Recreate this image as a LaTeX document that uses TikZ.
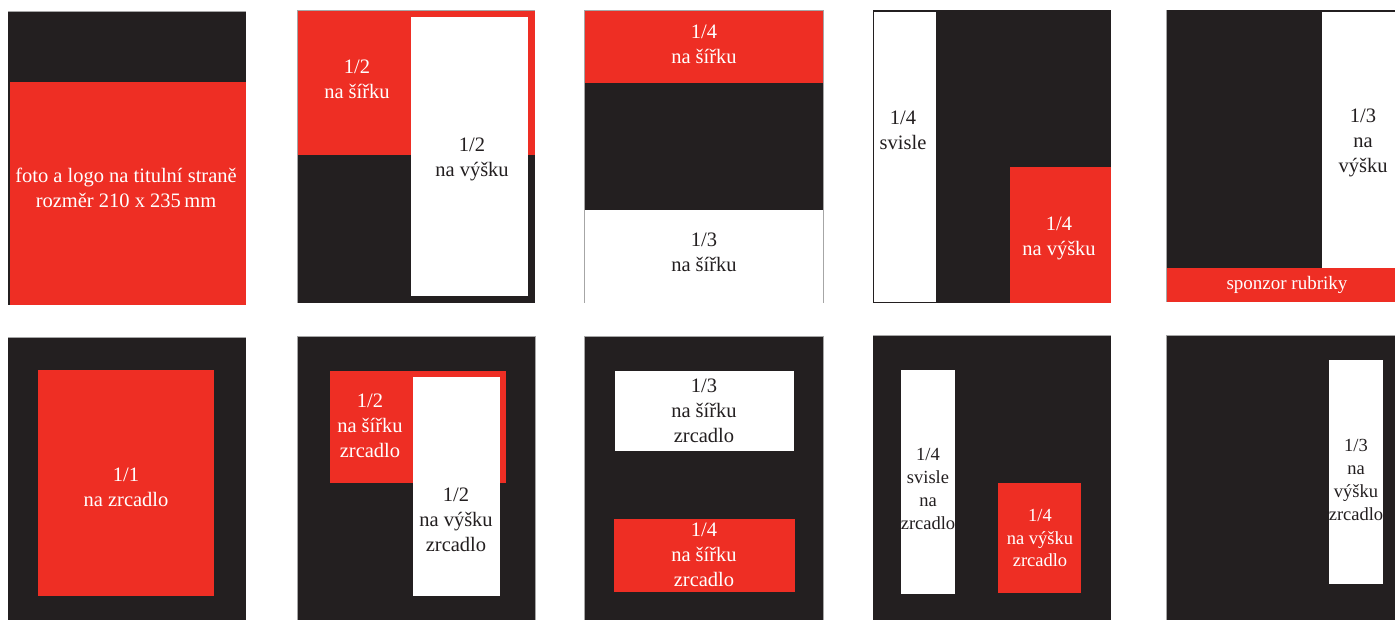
\documentclass[tikz,border=0pt]{standalone}
\usepackage{fontspec}
\setmainfont{Liberation Serif}
\definecolor{pred}{HTML}{EE2E24}
\definecolor{pdark}{HTML}{231F20}
\tikzset{
  darkbox/.style={fill=pdark},
  redbox/.style={fill=pred},
  whitebox/.style={fill=white},
  edge/.style={draw=gray!70,line width=0.7pt},
  lblw/.style={text=white,align=center,inner sep=0pt,font=\fontsize{20.5}{25}\selectfont},
  lbld/.style={text=pdark,align=center,inner sep=0pt,font=\fontsize{20.5}{25}\selectfont},
  slblw/.style={text=white,align=center,inner sep=0pt,font=\fontsize{18.5}{22.5}\selectfont},
  slbld/.style={text=pdark,align=center,inner sep=0pt,font=\fontsize{18.5}{23}\selectfont},
}
\begin{document}
\begin{tikzpicture}[x=1pt,y=-1pt]
\useasboundingbox[fill=white] (0,0) rectangle (1395,620);
% ---------- row 1 ----------
% panel 1
\fill[darkbox] (8,11) rectangle (246,305);
\fill[redbox] (10,82) rectangle (246,305);
\draw[edge] (8,11) -- (246,11);
\node[lblw] (p1) at (126,188) {foto a logo na titulní straně\\rozměr 210 x 235\,mm};
% panel 2
\fill[darkbox] (297,10) rectangle (535,303);
\fill[redbox] (297,10) rectangle (535,155);
\fill[whitebox] (411,17) rectangle (528,296);
\draw[edge] (297,303) -- (297,10) -- (535,10);
\node[lblw] (p2a) at (357,79) {1/2\\na šířku};
\node[lbld] (p2b) at (472,159) {1/2\\na výšku};
% panel 3
\fill[darkbox] (584,10) rectangle (823,210);
\fill[redbox] (584,10) rectangle (823,83);
\fill[whitebox] (584,210) rectangle (823,303);
\draw[edge] (584,303) -- (584,10) -- (823,10) -- (823,303);
\node[lblw] (p3a) at (704,44) {1/4\\na šířku};
\node[lbld] (p3b) at (704,252) {1/3\\na šířku};
% panel 4
\fill[darkbox] (873,10) rectangle (1111,303);
\fill[whitebox] (874,12) rectangle (936,302);
\draw[pdark,line width=1pt] (873.5,10.5) rectangle (1110.5,302.5);
\fill[redbox] (1010,167) rectangle (1111,303.5);
\node[lbld] (p4a) at (903,130) {1/4\\svisle};
\node[lblw] (p4b) at (1059,238) {1/4\\na výšku};
% panel 5
\fill[darkbox] (1166,10) rectangle (1395,302);
\fill[whitebox] (1322,12) rectangle (1395,268);
\fill[redbox] (1166,268) rectangle (1395,302);
\draw[edge] (1166,302) -- (1166,10);
\node[lbld] (p5a) at (1363,143) {1/3\\na\\výšku};
\node[text=white,inner sep=0pt,font=\fontsize{19}{23}\selectfont] (p5b) at (1287,285) {sponzor rubriky};
% ---------- row 2 ----------
% panel 6
\fill[darkbox] (8,337) rectangle (246,620);
\fill[redbox] (38,370) rectangle (214,596);
\draw[edge] (8,337) -- (246,337);
\node[lblw] (p6) at (126,487) {1/1\\na zrcadlo};
% panel 7
\fill[darkbox] (297,336) rectangle (535,620);
\fill[redbox] (330,371) rectangle (506,483);
\fill[whitebox] (413,377) rectangle (500,596);
\draw[edge] (297,620) -- (297,336) -- (535,336) -- (535,620);
\node[lblw] (p7a) at (370,426) {1/2\\na šířku\\zrcadlo};
\node[lbld] (p7b) at (456,520) {1/2\\na výšku\\zrcadlo};
% panel 8
\fill[darkbox] (584,336) rectangle (823,620);
\fill[whitebox] (615,371) rectangle (794,451);
\fill[redbox] (614,519) rectangle (795,592);
\draw[edge] (584,620) -- (584,336) -- (823,336) -- (823,620);
\node[lbld] (p8a) at (704,411) {1/3\\na šířku\\zrcadlo};
\node[lblw] (p8b) at (704,555) {1/4\\na šířku\\zrcadlo};
% panel 9
\fill[darkbox] (873,335) rectangle (1111,620);
\fill[whitebox] (901,370) rectangle (955,594);
\fill[redbox] (998,483) rectangle (1081,593);
\draw[edge] (873,335) -- (1111,335);
\node[slbld] (p9a) at (928,489) {1/4\\svisle\\na\\zrcadlo};
\node[slblw] (p9b) at (1040,538) {1/4\\na výšku\\zrcadlo};
% panel 10
\fill[darkbox] (1166,335) rectangle (1395,620);
\fill[whitebox] (1329,360) rectangle (1383,584);
\draw[edge] (1166,620) -- (1166,335) -- (1395,335);
\node[slbld] (p10) at (1356,480) {1/3\\na\\výšku\\zrcadlo};
\end{tikzpicture}
\end{document}
